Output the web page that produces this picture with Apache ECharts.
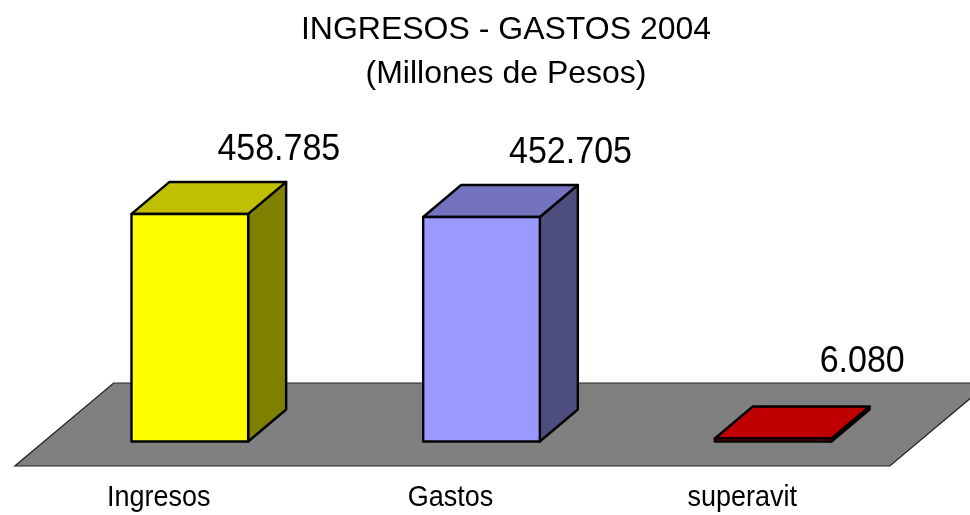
<!DOCTYPE html>
<html>
<head>
<meta charset="utf-8">
<title>Ingresos - Gastos 2004</title>
<script src="https://cdn.jsdelivr.net/npm/echarts@6/dist/echarts.min.js"></script>
<style>
  html, body { margin: 0; padding: 0; background: #fff; }
  #chart { width: 970px; height: 515px; }
</style>
</head>
<body>
<div id="chart"></div>
<script>
// datos del grafico
const categories = ['Ingresos', 'Gastos', 'superavit'];
const values = [458.785, 452.705, 6.080];
const valueLabels = ['458.785', '452.705', '6.080'];

// colores de cada barra: frente, tapa, lateral
const FRONT = ['#ffff00', '#9999ff', '#ff0000'];
const TOP = ['#c0c000', '#7373bf', '#c00000'];
const SIDE = ['#808000', '#4d4d80', '#800000'];

const FONT = '"Liberation Sans", Arial, sans-serif';
const DX = 38, DY = 32;          // profundidad de las barras
const FLOOR_FRONT = 24.5, FLOOR_BACK = 58.5, SLOPE = 1.19;
const STRETCH = 1.08;            // el texto original es algo mas alto

const chart = echarts.init(document.getElementById('chart'));

function floorItem (params, api) {
  const cs = params.coordSys;
  const base = api.coord([0, 0])[1];
  const l = cs.x, r = cs.x + cs.width;
  const yf = base + FLOOR_FRONT, yk = base - FLOOR_BACK;
  const xf = FLOOR_FRONT * SLOPE, xk = FLOOR_BACK * SLOPE;
  return {
    type: 'polygon',
    shape: { points: [[l - xf, yf], [r - xf, yf], [r + xk, yk], [l + xk, yk]] },
    style: { fill: '#808080', stroke: '#222', lineWidth: 1.2 }
  };
}

function label (x, y, text, size) {
  return {
    type: 'text',
    x: x, y: y, scaleY: STRETCH,
    style: {
      x: 0, y: 0, text: text,
      font: size + 'px ' + FONT, fill: '#000', align: 'center', verticalAlign: 'middle'
    }
  };
}

function barItem (params, api) {
  const i = api.value(0), v = api.value(1);
  const base = api.coord([i, 0]);
  const top = api.coord([i, v]);
  const w = api.size([1, 0])[0] * 0.4;
  const l = base[0] - w / 2, r = base[0] + w / 2;
  const yb = base[1], yt = top[1];
  const edge = { stroke: '#000', lineWidth: 2.4, lineJoin: 'round' };
  let labelY = Math.min(yt - DY - 32, yb - FLOOR_BACK - 21.5);
  return {
    type: 'group',
    children: [
      {
        type: 'polygon',
        shape: { points: [[r, yt], [r + DX, yt - DY], [r + DX, yb - DY], [r, yb]] },
        style: Object.assign({ fill: SIDE[i] }, edge)
      },
      {
        type: 'polygon',
        shape: { points: [[l, yt], [l + DX, yt - DY], [r + DX, yt - DY], [r, yt]] },
        style: Object.assign({ fill: TOP[i] }, edge)
      },
      {
        type: 'rect',
        shape: { x: l, y: yt, width: w, height: yb - yt },
        style: Object.assign({ fill: FRONT[i] }, edge)
      },
      label(base[0] + 89, labelY, valueLabels[i], 34),
      label(base[0] - 31, yb + FLOOR_FRONT + 32, categories[i], 27)
    ]
  };
}

chart.setOption({
  animation: false,
  title: [
    {
      text: 'INGRESOS - GASTOS 2004',
      left: 501, top: 9, textAlign: 'center',
      textStyle: { fontFamily: FONT, fontSize: 32, fontWeight: 'normal', color: '#000' }
    },
    {
      text: '(Millones de Pesos)',
      left: 501, top: 53, textAlign: 'center',
      textStyle: { fontFamily: FONT, fontSize: 32, fontWeight: 'normal', color: '#000' }
    }
  ],
  grid: { left: 44, width: 875, top: 193.5, height: 248 },
  xAxis: { type: 'category', data: categories, show: false },
  yAxis: { type: 'value', min: 0, max: 500, show: false },
  series: [
    {
      type: 'custom',
      renderItem: floorItem,
      data: [[0, 0]],
      clip: false,
      z: 1,
      silent: true
    },
    {
      type: 'custom',
      renderItem: barItem,
      data: values.map((v, i) => [i, v]),
      encode: { x: 0, y: 1 },
      clip: false,
      z: 2
    }
  ]
});
</script>
</body>
</html>
